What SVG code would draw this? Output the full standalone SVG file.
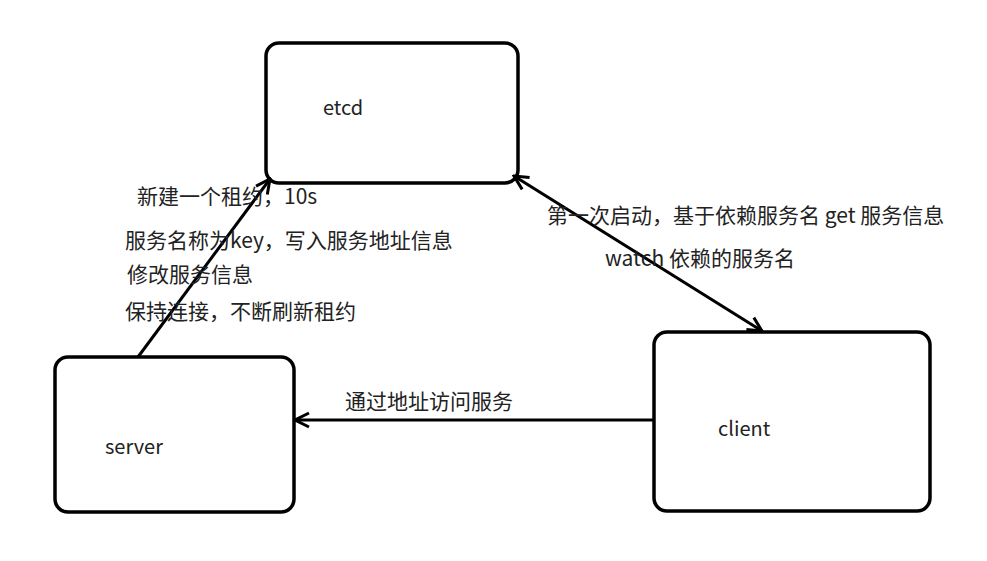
<svg xmlns="http://www.w3.org/2000/svg" width="987" height="561" viewBox="0 0 987 561">
<style>
.box{fill:#fff;stroke:#000;stroke-width:3.5}
.lbl{font-family:"Noto Sans CJK SC","Noto Sans",sans-serif;font-size:20px;fill:#222}
.cn{font-family:"Noto Sans CJK SC","Noto Sans",sans-serif;font-size:21px;fill:#222}
.conn{stroke:#000;stroke-width:3;fill:none}
</style>
<defs>
<marker id="ah" viewBox="0 0 20 20" refX="18" refY="10" markerWidth="20" markerHeight="20" markerUnits="userSpaceOnUse" orient="auto-start-reverse">
<path d="M4,3 L18,10 L4,17" fill="none" stroke="#000" stroke-width="3"/>
</marker>
</defs>
<rect width="987" height="561" fill="#fff"/>
<g id="etcd"><rect class="box" x="266" y="43" width="252" height="140" rx="13"/><text class="lbl" x="323" y="115">etcd</text></g>
<g id="server"><rect class="box" x="55" y="357" width="239" height="155" rx="13"/><text class="lbl" x="105" y="454">server</text></g>
<g id="client"><rect class="box" x="654" y="332" width="276" height="179" rx="13"/><text class="lbl" x="718" y="436">client</text></g>
<g id="connectors">
<line class="conn" x1="138" y1="357" x2="270" y2="179" marker-end="url(#ah)"/>
<line class="conn" x1="514" y1="176" x2="762" y2="331" marker-start="url(#ah)" marker-end="url(#ah)"/>
<line class="conn" x1="654" y1="420" x2="295" y2="420" marker-end="url(#ah)"/>
</g>
<g id="labels">
<text class="cn" x="137" y="204">新建一个租约，10s</text>
<text class="cn" x="125" y="248">服务名称为key，写入服务地址信息</text>
<text class="cn" x="127" y="282">修改服务信息</text>
<text class="cn" x="125" y="319">保持连接，不断刷新租约</text>
<text class="cn" x="547" y="223">第一次启动，基于依赖服务名 get 服务信息</text>
<text class="cn" x="605" y="266">watch 依赖的服务名</text>
<text class="cn" x="345" y="409">通过地址访问服务</text>
</g>
</svg>
